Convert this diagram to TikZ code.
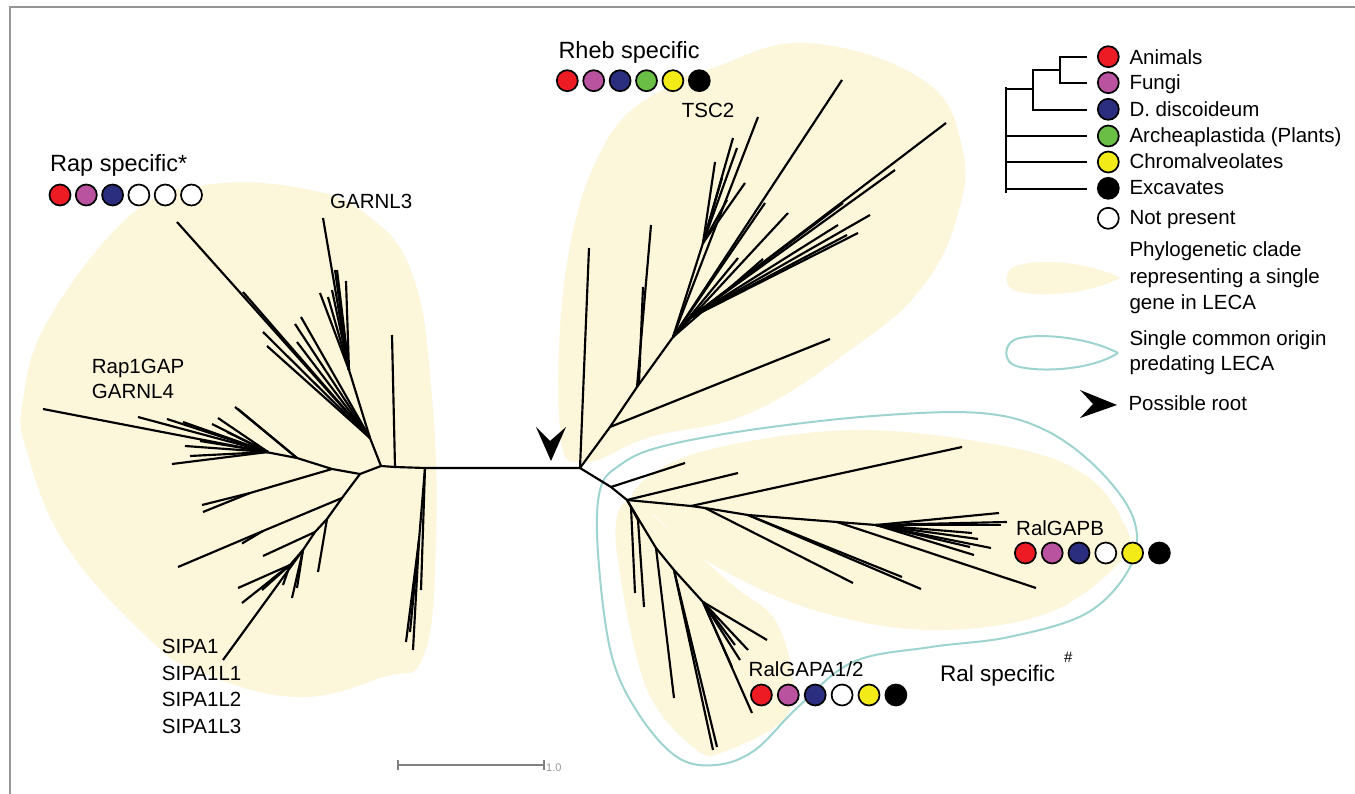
\documentclass[tikz,border=0pt]{standalone}
\usepackage{fontspec}
\setmainfont{Liberation Sans}
\definecolor{cladecol}{RGB}{252,246,218}
\definecolor{tealcol}{RGB}{158,212,207}
\definecolor{cRed}{RGB}{237,28,36}
\definecolor{cMag}{RGB}{185,82,159}
\definecolor{cNavy}{RGB}{43,46,126}
\definecolor{cGreen}{RGB}{106,189,69}
\definecolor{cYellow}{RGB}{242,235,23}
\definecolor{framecol}{RGB}{150,150,150}
\begin{document}
\begin{tikzpicture}[x=1pt,y=-1pt,
  tree/.style={line width=2.15pt},
  dot/.style={circle,draw=black,line width=1.7pt,minimum size=21pt,inner sep=0pt},
  lab/.style={anchor=base west,inner sep=0pt,font=\fontsize{20.5}{24}\selectfont},
  head/.style={anchor=base west,inner sep=0pt,font=\fontsize{23.5}{28}\selectfont},
  clade/.style={fill=cladecol,draw=none},
  origin/.style={draw=tealcol,line width=2pt},
  legtree/.style={line width=2pt}]
\useasboundingbox (0,0) rectangle (1355,794);
\fill[white] (0,0) rectangle (1355,794);
\draw[framecol,line width=1.5pt] (10,794) -- (10,7) -- (1355,7);

% ---- clades ----
\fill[clade] plot[smooth cycle,tension=0.7] coordinates {(206,185) (300,188) (367,215) (413,276) (432,397) (436,540) (424,655) (383,677) (297,697) (200,672) (147,637) (67,547) (28,455) (23,400) (50,317) (133,213)};
\fill[clade] plot[smooth cycle,tension=0.7] coordinates {(560,430) (567,263) (607,140) (667,87) (713,68) (807,43) (923,80) (962,147) (957,217) (920,290) (850,350) (750,413) (650,437) (585,462)};
\fill[clade] plot[smooth cycle,tension=0.6] coordinates {(632,494) (697,453) (853,430) (1009,447) (1085,475) (1122,520) (1124,557) (1048,613) (931,630) (814,610) (710,563) (660,520)};
\fill[clade] plot[smooth cycle,tension=0.6] coordinates {(622,505) (617,553) (646,687) (697,750) (728,750) (783,720) (793,680) (775,620) (736,588) (690,548) (645,510)};
\draw[origin] plot[smooth cycle,tension=0.6] coordinates {(600,490) (620,465) (660,447) (750,430) (873,416) (980,413) (1045,430) (1099,470) (1134,520) (1130,567) (1087,613) (1009,637) (931,647) (853,662) (798,707) (755,750) (716,765) (677,757) (638,713) (611,653) (598,553)};

% ---- tree: internal nodes ----
\coordinate (L0) at (381,466);
\coordinate (Lh) at (395,467);
\coordinate (Ld0) at (425,468);
\coordinate (Ld1) at (419,540);
\coordinate (R0) at (580,468);
\coordinate (Lu) at (370,438);
\coordinate (Lg) at (349,370);
\coordinate (L1) at (360,474);
\coordinate (L2) at (332,469);
\coordinate (L2a) at (250,493);
\coordinate (L3) at (297,458);
\coordinate (L3a) at (268,452);
\coordinate (L4) at (342,498);
\coordinate (L4a) at (263,531);
\coordinate (L5) at (327,519);
\coordinate (L6) at (315,532);
\coordinate (L7) at (303,550);
\coordinate (L7a) at (290,565);
\coordinate (Ra) at (610,427);
\coordinate (Rb) at (637,387);
\coordinate (Rb2) at (639,383);
\coordinate (Rc) at (673,337);
\coordinate (Rt) at (703,243);
\coordinate (Re) at (690,318);
\coordinate (Q1) at (611,487);
\coordinate (Q2) at (627,500);
\coordinate (Q3) at (691,506);
\coordinate (Q4) at (705,508);
\coordinate (Q5) at (748,515);
\coordinate (Q6) at (837,522);
\coordinate (Q7) at (876,525);
\coordinate (Q2a) at (631,507);
\coordinate (Q2b) at (638,520);
\coordinate (Q8) at (656,548);
\coordinate (Q9) at (674,570);
\coordinate (Q10) at (703,602);

% ---- tree: branches ----
\draw[tree] (L0) -- (Lh) -- (Ld0) -- (R0);
\draw[tree] (Lh) -- (392,335);
\draw[tree] (Ld0) -- (421,590);
\draw[tree] (Ld0) -- (Ld1);
\foreach \x/\y in {413/650,406/642,410/632} \draw[tree] (Ld1) -- (\x,\y);
\draw[tree] (L0) -- (Lu) -- (Lg);
\foreach \x/\y in {323/218,335/270,337/270,320/293,328/297,346/281,332/290} \draw[tree] (Lg) -- (\x,\y);
\foreach \x/\y in {177/222,243/292,263/332,267/346,295/324,301/317,297/342} \draw[tree] (Lu) -- (\x,\y);
\draw[tree] (L0) -- (L1) -- (L2) -- (L3) -- (43,409);
\foreach \x/\y in {235/407,238/409} \draw[tree] (L3) -- (\x,\y);
\foreach \x/\y in {138/417,167/419,183/422,185/446,172/464,190/456,212/424,218/418,227/432,200/441} \draw[tree] (L3a) -- (\x,\y);
\draw[tree] (L2) -- (L2a) -- (202,505);
\draw[tree] (L2a) -- (203,512);
\draw[tree] (L1) -- (L4) -- (L4a) -- (178,567);
\draw[tree] (L4a) -- (242,543.5);
\draw[tree] (L4) -- (L5) -- (318,572);
\draw[tree] (L5) -- (L6) -- (263,556);
\draw[tree] (L6) -- (L7) -- (223,660);
\foreach \x/\y in {292/598,297/588} \draw[tree] (L7) -- (\x,\y);
\draw[tree] (L7) -- (L7a);
\foreach \x/\y in {238/588,242/603,283/585,271/580,262/590} \draw[tree] (L7a) -- (\x,\y);

\draw[tree] (R0) -- (589,248);
\draw[tree] (R0) -- (Ra) -- (Rb) -- (Rc);
\draw[tree] (Ra) -- (830,339);
\draw[tree] (Rb) -- (651,225);
\draw[tree] (Rb2) -- (643,287);
\draw[tree] (Rc) -- (Rt);
\foreach \x/\y in {733/138,737/148,715/162,745/183,727/200,722/178} \draw[tree] (Rt) -- (\x,\y);
\foreach \x/\y in {758/117,842/80,765/203,788/213,738/258,763/259} \draw[tree] (Rc) -- (\x,\y);
\draw[tree] (Rc) -- (Re);
\foreach \x/\y in {946/123,895/170,843/203,838/225,858/233,847/235,870/215} \draw[tree] (Re) -- (\x,\y);

\draw[tree] (R0) -- (Q1) -- (Q2) -- (Q3) -- (Q4) -- (Q5) -- (Q6) -- (Q7);
\draw[tree] (Q1) -- (685,463);
\draw[tree] (Q2) -- (738,473);
\draw[tree] (Q3) -- (962,447);
\draw[tree] (Q4) -- (853,583);
\draw[tree] (Q5) -- (921,589);
\draw[tree] (Q5) -- (902,577);
\draw[tree] (Q6) -- (1036,588);
\foreach \x/\y in {999/513,1007/522,1001/525,972/533,978/539,970/547,991/548,974/555} \draw[tree] (Q7) -- (\x,\y);
\draw[tree] (Q2) -- (Q2a) -- (635,593);
\draw[tree] (Q2a) -- (Q2b) -- (644,607);
\draw[tree] (Q2) -- (Q8) -- (Q9) -- (Q10);
\draw[tree] (Q8) -- (674,698);
\draw[tree] (Q9) -- (713,750);
\draw[tree] (Q9) -- (717,747);
\foreach \x/\y in {767/640,748/650,752/713,732/667,740/660,735/645} \draw[tree] (Q10) -- (\x,\y);

% root arrow
\fill[black] (551,461) -- (536,427) -- (550,441) -- (566,427) -- cycle;

% scale bar
\draw[framecol!85!black,line width=1.8pt] (398,760) -- (398,770) (398,765) -- (544,765) (544,760) -- (544,770);
\node[anchor=base west,inner sep=0pt,text=framecol,font=\fontsize{11}{13}\selectfont] (scalelab) at (546,771) {1.0};

% ---- labels ----
\node[head] (rapT) at (50,171.7) {Rap specific*};
\node[head] (rhebT) at (558.3,58.3) {Rheb specific};
\node[lab] (tsc2) at (681.7,117.3) {TSC2};
\node[lab] (garnl3) at (330,208.3) {GARNL3};
\node[lab] (rap1gap) at (91.7,373.3) {Rap1GAP};
\node[lab] (garnl4) at (91.7,398.3) {GARNL4};
\node[lab] (sipa1) at (161.7,653.3) {SIPA1};
\node[lab] (sipa1l1) at (161.7,680) {SIPA1L1};
\node[lab] (sipa1l2) at (161.7,706.7) {SIPA1L2};
\node[lab] (sipa1l3) at (161.7,733.3) {SIPA1L3};
\node[lab] (ralgapb) at (1016,535) {RalGAPB};
\node[lab] (ralgapa) at (748.5,676.7) {RalGAPA1/2};
\node[anchor=base west,inner sep=0pt,font=\fontsize{22.5}{26}\selectfont] (ralT) at (940,681.7) {Ral specific};
\node[anchor=base west,inner sep=0pt,font=\fontsize{15}{17}\selectfont] (ralhash) at (1064,662) {\#};

% ---- presence circles ----
\foreach \c [count=\i] in {cRed,cMag,cNavy,white,white,white}
  \node[dot,fill=\c] (rap\i) at ({60+26.3*(\i-1)},195) {};
\foreach \c [count=\i] in {cRed,cMag,cNavy,cGreen,cYellow,black}
  \node[dot,fill=\c] (rheb\i) at ({567.3+26.4*(\i-1)},80.7) {};
\foreach \c [count=\i] in {cRed,cMag,cNavy,white,cYellow,black}
  \node[dot,fill=\c] (ralb\i) at ({1025.4+26.8*(\i-1)},553) {};
\foreach \c [count=\i] in {cRed,cMag,cNavy,white,cYellow,black}
  \node[dot,fill=\c] (rala\i) at ({761.4+26.9*(\i-1)},695) {};

% ---- legend ----
\draw[legtree] (1087,56.7) -- (1060,56.7) -- (1060,83.3) -- (1087,83.3);
\draw[legtree] (1060,70) -- (1032.7,70) -- (1032.7,110) -- (1087,110);
\draw[legtree] (1032.7,89.3) -- (1006,89.3);
\draw[legtree] (1006,87.3) -- (1006,193.3);
\draw[legtree] (1006,136) -- (1087,136);
\draw[legtree] (1006,162) -- (1087,162);
\draw[legtree] (1006,189.3) -- (1087,189.3);
\foreach \c/\yy [count=\i] in {cRed/56.7,cMag/82.7,cNavy/109.3,cGreen/136,cYellow/162,black/188.3,white/218.3}
  \node[dot,fill=\c] (leg\i) at (1108.3,\yy) {};
\node[lab] (tAnimals) at (1129.3,64.3) {Animals};
\node[lab] (tFungi) at (1129.3,90) {Fungi};
\node[lab] (tDicty) at (1129.3,116.7) {D. discoideum};
\node[lab] (tPlants) at (1129.3,142.7) {Archeaplastida (Plants)};
\node[lab] (tChrom) at (1129.3,168.3) {Chromalveolates};
\node[lab] (tExc) at (1129.3,195) {Excavates};
\node[lab] (tNot) at (1129.3,225) {Not present};
\fill[clade] (1120,278) .. controls (1090,262) and (1040,258) .. (1016,266) .. controls (1003,271) and (1003,287) .. (1016,291) .. controls (1040,298) and (1090,294) .. (1120,278);
\node[lab] (tClade1) at (1129.3,256.7) {Phylogenetic clade};
\node[lab] (tClade2) at (1129.3,283.3) {representing a single};
\node[lab] (tClade3) at (1129.3,309.3) {gene in LECA};
\draw[origin] (1118,353) .. controls (1090,338) and (1040,332) .. (1016,339) .. controls (1003,344) and (1003,362) .. (1016,366) .. controls (1040,373) and (1092,370) .. (1118,353);
\node[lab] (tOrig1) at (1129.3,345) {Single common origin};
\node[lab] (tOrig2) at (1129.3,370.7) {predating LECA};
\fill[black] (1117,405) -- (1080,390) -- (1093,404) -- (1080,418) -- cycle;
\node[lab] (tRoot) at (1128.3,410) {Possible root};
\end{tikzpicture}
\end{document}
